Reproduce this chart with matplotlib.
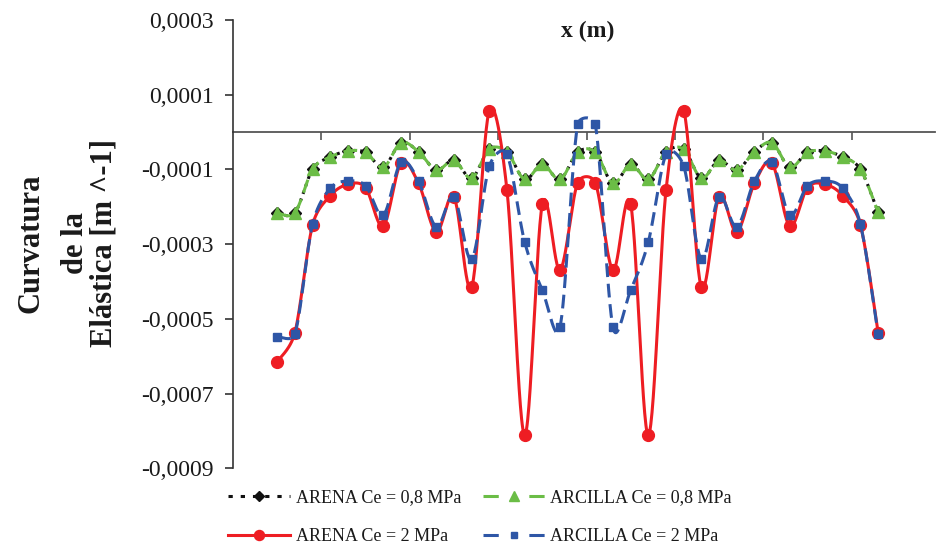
import numpy as np
import matplotlib
matplotlib.use("Agg")
import matplotlib.pyplot as plt
from matplotlib.lines import Line2D
from matplotlib.ticker import FuncFormatter

plt.rcParams['font.family'] = ['Liberation Serif', 'DejaVu Serif']

# Abscissa of each section (m)
x_m = [2.5, 3.5, 4.5, 5.5, 6.5, 7.5, 8.5, 9.5, 10.5, 11.5, 12.5, 13.5,
       14.5, 15.5, 16.5, 17.5, 18.5, 19.5, 20.5, 21.5, 22.5, 23.5, 24.5,
       25.5, 26.5, 27.5, 28.5, 29.5, 30.5, 31.5, 32.5, 33.5, 34.5, 35.5, 36.5]

# Curvature of the deflected shape [m^-1]
arena_08 = [-0.000216, -0.000216, -0.0000998, -0.0000669, -0.0000509, -0.0000543,
            -0.0000945, -0.0000286, -0.0000527, -0.0001017, -0.0000757, -0.0001231,
            -0.0000463, -0.0000535, -0.0001266, -0.0000857, -0.0001266, -0.0000543,
            -0.0000543, -0.0001373, -0.0000857, -0.0001266, -0.0000535, -0.0000463,
            -0.0001231, -0.0000757, -0.0001017, -0.0000527, -0.0000286, -0.0000945,
            -0.0000543, -0.0000509, -0.0000669, -0.0000998, -0.000215]

arcilla_08 = [-0.000216, -0.000216, -0.0000998, -0.0000669, -0.0000509, -0.0000543,
              -0.0000945, -0.0000286, -0.0000527, -0.0001017, -0.0000757, -0.0001231,
              -0.0000463, -0.0000535, -0.0001266, -0.0000857, -0.0001266, -0.0000543,
              -0.0000543, -0.0001373, -0.0000857, -0.0001266, -0.0000535, -0.0000463,
              -0.0001231, -0.0000757, -0.0001017, -0.0000527, -0.0000286, -0.0000945,
              -0.0000543, -0.0000509, -0.0000669, -0.0000998, -0.000215]

arena_2 = [-0.000615, -0.000537, -0.000249, -0.0001705, -0.000140, -0.000149,
           -0.0002516, -0.0000838, -0.0001373, -0.000267, -0.0001732, -0.0004157,
           0.000057, -0.0001552, -0.000811, -0.0001935, -0.000369, -0.0001357,
           -0.0001357, -0.000369, -0.0001935, -0.000811, -0.0001552, 0.000057,
           -0.0004157, -0.0001732, -0.000267, -0.0001373, -0.0000838, -0.0002516,
           -0.000149, -0.000140, -0.0001705, -0.000249, -0.000537]

arcilla_2 = [-0.000548, -0.000541, -0.000247, -0.0001507, -0.0001312, -0.0001437,
             -0.0002222, -0.0000811, -0.0001312, -0.0002535, -0.0001732, -0.0003407,
             -0.000091, -0.0000597, -0.0002936, -0.000423, -0.000523, 0.0000206,
             0.0000206, -0.000523, -0.000423, -0.0002936, -0.0000597, -0.000091,
             -0.0003407, -0.0001732, -0.0002535, -0.0001312, -0.0000811, -0.0002222,
             -0.0001437, -0.0001312, -0.0001507, -0.000247, -0.000541]

series_labels = ["ARENA Ce = 0,8 MPa", "ARCILLA Ce = 0,8 MPa",
                 "ARENA Ce = 2 MPa", "ARCILLA Ce = 2 MPa"]

y_ticks = [-0.0009, -0.0007, -0.0005, -0.0003, -0.0001, 0.0001, 0.0003]
x_ticks = [5, 10, 15, 20, 25, 30, 35]


def smooth(ax, x, y, n=30, tension=1 / 6):
    """Smoothed line through the points, built in screen space with cubic
    Bezier segments whose handles are capped at half the segment length."""
    p = ax.transData.transform(np.column_stack([x, y]))
    m = len(p)
    t = np.linspace(0, 1, n)[:, None]
    out = []
    for i in range(m - 1):
        p1, p2 = p[i], p[i + 1]
        p0 = p[i - 1] if i > 0 else p1
        p3 = p[i + 2] if i + 2 < m else p2
        d12 = np.hypot(*(p2 - p1))
        d02 = np.hypot(*(p2 - p0))
        d13 = np.hypot(*(p3 - p1))
        f0 = tension if d02 * tension < d12 / 2 else (d12 / d02 / 2 if d02 > 0 else 0)
        f1 = tension if d13 * tension < d12 / 2 else (d12 / d13 / 2 if d13 > 0 else 0)
        c1 = p1 + (p2 - p0) * f0
        c2 = p2 - (p3 - p1) * f1
        seg = ((1 - t) ** 3) * p1 + 3 * ((1 - t) ** 2) * t * c1 \
            + 3 * (1 - t) * t ** 2 * c2 + t ** 3 * p2
        out.append(seg if i == 0 else seg[1:])
    s = ax.transData.inverted().transform(np.vstack(out))
    return s[:, 0], s[:, 1]


fig = plt.figure(figsize=(9.4, 5.5), dpi=100)
ax = fig.add_axes([233 / 940, 1 - 468.3 / 550, 707 / 940, (468.3 - 20) / 550])
ax.set_xlim(0, 40)
ax.set_ylim(-0.0009, 0.0003)

black = '#111111'
green = '#6BBD46'
red = '#EE1D23'
blue = '#2E56A6'

styles = [
    dict(color=black, ls=(0, (1.0, 1.6)), leg_ls=(0, (1.4, 2.6)), lw=2.2, marker='D', ms=6),
    dict(color=green, ls=(0, (4.5, 2.2)), leg_ls=(0, (5, 10)), lw=2.2, marker='^', ms=8.5),
    dict(color=red, ls='-', leg_ls='-', lw=2.2, marker='o', ms=8.5),
    dict(color=blue, ls=(0, (4.5, 2.2)), leg_ls=(0, (5, 10)), lw=2.2, marker='s', ms=5.8),
]
data = [arena_08, arcilla_08, arena_2, arcilla_2]

handles = []
for vals, st, lab in zip(data, styles, series_labels):
    sx, sy = smooth(ax, x_m, vals)
    ax.plot(sx, sy, color=st['color'], ls=st['ls'], lw=st['lw'],
            solid_capstyle='butt', dash_capstyle='butt', clip_on=False)
    ax.plot(x_m, vals, ls='none', marker=st['marker'], ms=st['ms'],
            mfc=st['color'], mec=st['color'], clip_on=False)
    handles.append(Line2D([], [], color=st['color'], ls=st['leg_ls'], lw=st['lw'],
                          marker=st['marker'], ms=st['ms'] * 0.85,
                          mfc=st['color'], mec=st['color'],
                          dash_capstyle='butt', label=lab))

# Axes: vertical axis on the left, horizontal axis through zero
for side in ('top', 'right'):
    ax.spines[side].set_visible(False)
ax.spines['left'].set_color('#333333')
ax.spines['left'].set_linewidth(1.2)
ax.spines['bottom'].set_position(('data', 0))
ax.spines['bottom'].set_color('#555555')
ax.spines['bottom'].set_linewidth(1.3)
ax.spines['bottom'].set_zorder(0.5)
ax.spines['bottom'].set_bounds(0, 39.7)

ax.set_xticks(x_ticks)
ax.tick_params(axis='x', direction='out', length=6, width=1.2,
               color='#555555', labelbottom=False)
ax.set_yticks(y_ticks)
ax.yaxis.set_major_formatter(
    FuncFormatter(lambda v, _: f"{v:.4f}".replace('.', ',').replace('\u2212', '-')))
ax.tick_params(axis='y', direction='out', length=6, width=1.2,
               color='#333333', labelsize=17, labelcolor='#1a1a1a', pad=8)

# Titles
fig.text(588 / 940, 1 - 31 / 550, 'x (m)', ha='center', va='center',
         fontsize=17, fontweight='bold', color='#1a1a1a')
for xb, line in [(39, 'Curvatura'), (83, 'de la'), (111, 'Elástica [m ^-1]')]:
    fig.text(xb / 940, 1 - 243 / 550, line, rotation=90, rotation_mode='anchor',
             ha='center', va='baseline', fontsize=22, fontweight='bold',
             color='#1a1a1a')

# Legend
leg = fig.legend(handles=[handles[0], handles[2], handles[1], handles[3]],
                 ncol=2, loc='upper left', bbox_to_anchor=(228 / 940, 1 - 489 / 550),
                 frameon=False, fontsize=13, handlelength=3.45, handletextpad=0.3,
                 columnspacing=1.2, labelspacing=1.23, borderpad=0,
                 borderaxespad=0, numpoints=1)
for t in leg.get_texts():
    t.set_color('#1a1a1a')

fig.savefig('out.png', dpi=100)
